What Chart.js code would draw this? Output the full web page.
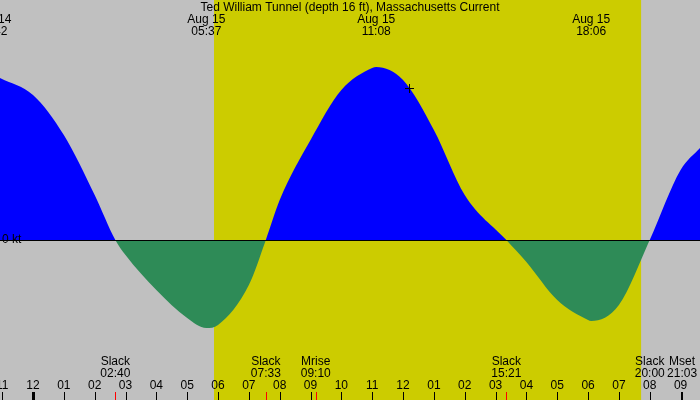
<!DOCTYPE html>
<html><head><meta charset="utf-8">
<script src="https://cdn.jsdelivr.net/npm/chart.js@4"></script>
<style>html,body{margin:0;padding:0;background:#c0c0c0}canvas{display:block}</style>
</head><body><canvas id="c" width="700" height="400" style="width:700px;height:400px"></canvas>
<script>
// hours relative to Aug 15 00:00
const hours  = [-1.07,0,1,2,2.67,3,4,5,5.62,6,7,7.55,8,9,10,11,11.13,12,13,14,15.35,16,17,18,18.1,19,20,21,21.63];
const speeds = [1.62,1.45,1.05,0.45,0,-0.15,-0.5,-0.78,-0.88,-0.85,-0.45,0,0.4,1.0,1.5,1.72,1.73,1.6,1.1,0.45,0,-0.22,-0.6,-0.8,-0.81,-0.65,0,0.7,0.92];
const daylight = [5.87, 19.72];
const hourTicks = [-1,0,1,2,3,4,5,6,7,8,9,10,11,12,13,14,15,16,17,18,19,20,21];
const hourLabels = ['11','12','01','02','03','04','05','06','07','08','09','10','11','12','01','02','03','04','05','06','07','08','09'];
const topEvents = [{h:-1.07,l1:'14',l2:'42',left:true},{h:5.62,l1:'Aug 15',l2:'05:37'},{h:11.13,l1:'Aug 15',l2:'11:08'},{h:18.1,l1:'Aug 15',l2:'18:06'}];
const bottomEvents = [{h:2.67,l1:'Slack',l2:'02:40',red:true},{h:7.55,l1:'Slack',l2:'07:33',red:true},{h:9.17,l1:'Mrise',l2:'09:10',red:true},{h:15.35,l1:'Slack',l2:'15:21',red:true},{h:20.0,l1:'Slack',l2:'20:00',red:true},{h:21.05,l1:'Mset',l2:'21:03',red:false}];
const nowMark = {h:12.2, v:1.52};

const bg = {id:'bg', beforeDatasetsDraw(ch){
  const c=ch.ctx, x=ch.scales.x;
  c.save(); c.fillStyle='#c0c0c0'; c.fillRect(0,0,700,400);
  c.fillStyle='#cccc00'; const a=x.getPixelForValue(daylight[0]), b=x.getPixelForValue(daylight[1]);
  c.fillRect(a,0,b-a,400); c.restore();
}};
const fg = {id:'fg', afterDatasetsDraw(ch){
  const c=ch.ctx, x=ch.scales.x, y=ch.scales.y;
  c.save();
  const y0=y.getPixelForValue(0);
  c.strokeStyle='#000'; c.lineWidth=1; c.beginPath(); c.moveTo(0,Math.round(y0)+0.5); c.lineTo(700,Math.round(y0)+0.5); c.stroke();
  c.font='12px "Liberation Sans", Arial, sans-serif'; c.fillStyle='#000'; c.textBaseline='middle';
  c.textAlign='left'; c.fillText('0 kt',2,y0);
  c.textAlign='center';
  c.fillText('Ted William Tunnel (depth 16 ft), Massachusetts Current',350,8);
  topEvents.forEach(e=>{const px=x.getPixelForValue(e.h); c.textAlign=e.left?'left':'center'; c.fillText(e.l1,e.left?-2:px,20); c.fillText(e.l2,e.left?-6:px,32);});
  c.textAlign='center';
  bottomEvents.forEach(e=>{const px=x.getPixelForValue(e.h); c.fillText(e.l1,px,362); c.fillText(e.l2,px,374);
    c.fillStyle=e.red?'#ff0000':'#000'; c.fillRect(Math.round(px)-(e.red?0:1),392,e.red?1:2,8); c.fillStyle='#000';});
  hourTicks.forEach((h,i)=>{const px=x.getPixelForValue(h); c.fillText(hourLabels[i],px,386);
    c.fillRect(Math.round(px)-(h===0?1:0),392,h===0?3:1,8);});
  const mx=Math.round(x.getPixelForValue(nowMark.h)), my=Math.round(y.getPixelForValue(nowMark.v));
  c.beginPath(); c.moveTo(mx-4,my+0.5); c.lineTo(mx+5,my+0.5); c.moveTo(mx+0.5,my-4); c.lineTo(mx+0.5,my+5); c.stroke();
  c.restore();
}};
new Chart(document.getElementById('c'),{
  type:'line',
  data:{datasets:[{data:hours.map((h,i)=>({x:h,y:speeds[i]})),borderWidth:0,pointRadius:0,cubicInterpolationMode:'monotone',
    fill:{target:'origin',above:'#0000ff',below:'#2e8b57'}}]},
  options:{responsive:false,animation:false,maintainAspectRatio:false,layout:{padding:0},
    plugins:{legend:{display:false},tooltip:{enabled:false}},
    scales:{x:{type:'linear',min:-1.07,max:21.63,display:false},y:{min:-1.6,max:2.4,display:false}}},
  plugins:[bg,fg]
});
</script>
</body></html>
